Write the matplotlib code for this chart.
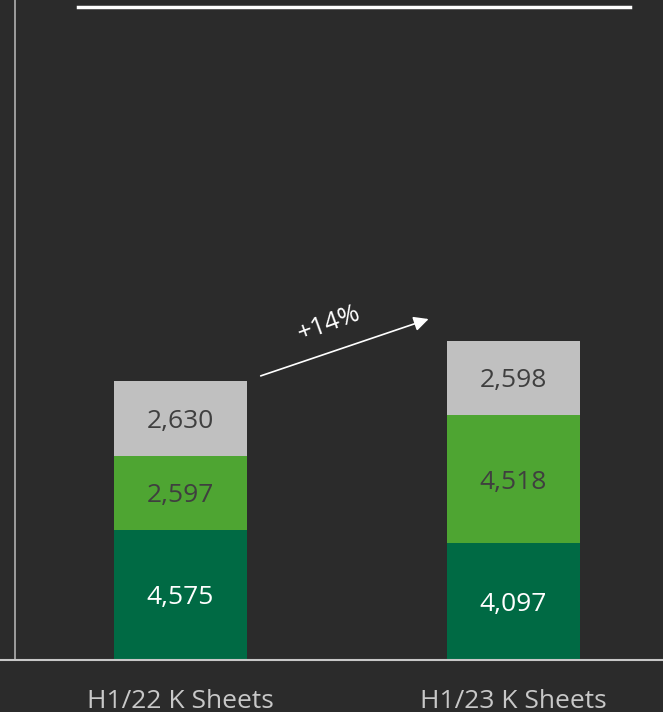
import numpy as np
import matplotlib.pyplot as plt
from matplotlib.lines import Line2D

plt.rcParams['font.family'] = ['Open Sans', 'DejaVu Sans']

# data
categories = ['H1/22 K Sheets', 'H1/23 K Sheets']
bottom_vals = [4575, 4097]
middle_vals = [2597, 4518]
top_vals = [2630, 2598]
growth_label = '+14%'

bg = '#2b2b2b'
dark_green = '#006a44'
light_green = '#4ea532'
grey = '#c0c0c0'

W, H = 663, 712
fig = plt.figure(figsize=(W / 100, H / 100), dpi=100, facecolor=bg)
base_px = 660
ax = fig.add_axes([0, (H - base_px) / H, 1, base_px / H])
ax.set_facecolor(bg)

x = np.arange(len(categories))
width = 0.4
ax.set_xlim(-0.542, 1.449)
ax.set_ylim(0, base_px * 35.14)

b = np.array(bottom_vals)
m = np.array(middle_vals)
t = np.array(top_vals)
ax.bar(x, b, width, color=dark_green)
ax.bar(x, m, width, bottom=b, color=light_green)
ax.bar(x, t, width, bottom=b + m, color=grey)

for i in range(len(x)):
    ax.text(x[i], b[i] / 2, f'{b[i]:,}', ha='center', va='center_baseline',
            fontsize=19, color='white')
    ax.text(x[i], b[i] + m[i] / 2, f'{m[i]:,}', ha='center', va='center_baseline',
            fontsize=19, color='#3f3f3f')
    ax.text(x[i], b[i] + m[i] + t[i] / 2, f'{t[i]:,}', ha='center',
            va='center_baseline', fontsize=19, color='#3f3f3f')

for s in ax.spines.values():
    s.set_visible(False)
ax.set_xticks([])
ax.set_yticks([])

# growth arrow
tot = b + m + t
ax.annotate('', xy=(0.753, tot[1] + 800), xytext=(0.233, tot[0] + 150),
            arrowprops=dict(arrowstyle='-|>', color='white', lw=1.2,
                            mutation_scale=22))
fig.text(329 / W, 1 - 324 / H, growth_label, rotation=20, color='white',
         fontsize=18.5, ha='center', va='center')

# frame lines
fig.add_artist(Line2D([78 / W, 630 / W], [1 - 7 / H, 1 - 7 / H],
                      color='white', lw=2.5))
fig.add_artist(Line2D([15 / W, 15 / W], [1, 1 - base_px / H],
                      color='#b0b0b0', lw=1.2))
fig.add_artist(Line2D([0, 1], [1 - base_px / H, 1 - base_px / H],
                      color='#c8c8c8', lw=1.5))

for i, c in enumerate(categories):
    fig.text((180.5 + 333 * i) / W, 1 - 698 / H, c, color='#c8c8c8',
             fontsize=19, ha='center', va='center_baseline')

fig.savefig('out.png', dpi=100, facecolor=bg)
